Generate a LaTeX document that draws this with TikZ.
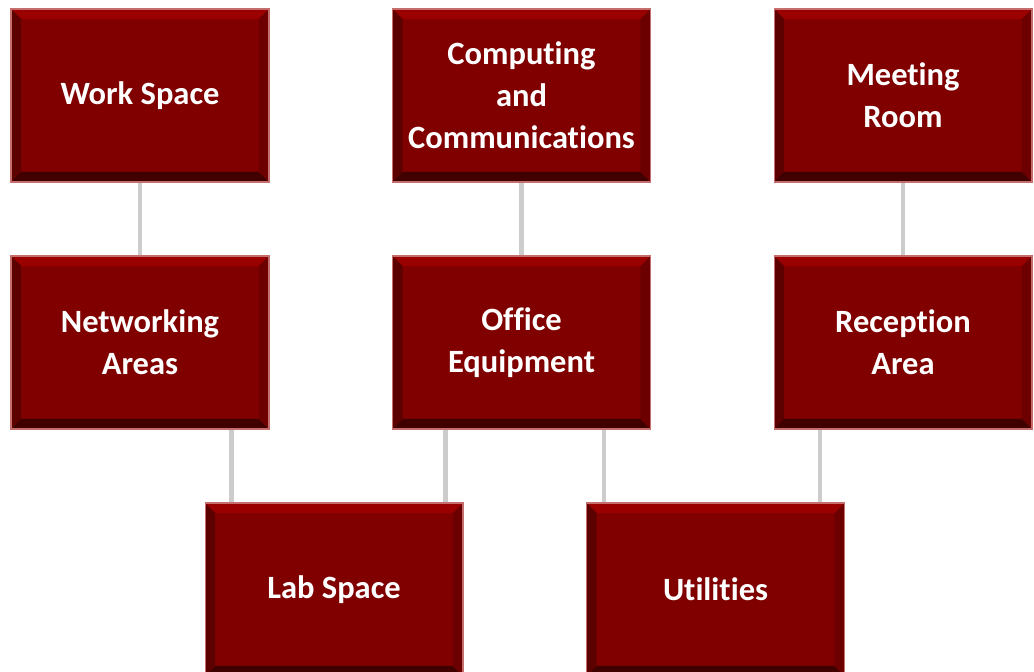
\documentclass[tikz,border=0pt]{standalone}
\usepackage{fontspec}
\setmainfont{Carlito}[RawFeature=-liga]
\usetikzlibrary{positioning}
\definecolor{boxred}{RGB}{128,0,0}
\definecolor{bevtop}{RGB}{155,0,0}
\definecolor{bevleft}{RGB}{92,0,0}
\definecolor{bevbot}{RGB}{64,0,0}
\definecolor{bevright}{RGB}{108,0,0}
\definecolor{rim}{RGB}{196,110,110}
\definecolor{linkgray}{RGB}{204,204,204}
\begin{document}
\begin{tikzpicture}[x=0.02cm,y=-0.02cm]
		\tikzset{
			bev/.store in=\bev, bev=0.2cm,
			box/.style={rectangle, fill=boxred, draw=rim, line width=0.6pt,
				minimum width=5.16cm, minimum height=3.46cm, inner sep=0pt,
				text=white, align=center, font=\fontsize{18.5}{24}\selectfont\bfseries,
				path picture={
					\def\pb{path picture bounding box}
					\fill[bevtop] (\pb.north west) -- (\pb.north east)
						-- ([shift={(-\bev,-\bev)}]\pb.north east) -- ([shift={(\bev,-\bev)}]\pb.north west) -- cycle;
					\fill[bevleft] (\pb.north west) -- ([shift={(\bev,-\bev)}]\pb.north west)
						-- ([shift={(\bev,\bev)}]\pb.south west) -- (\pb.south west) -- cycle;
					\fill[bevbot] (\pb.south west) -- ([shift={(\bev,\bev)}]\pb.south west)
						-- ([shift={(-\bev,\bev)}]\pb.south east) -- (\pb.south east) -- cycle;
					\fill[bevright] (\pb.north east) -- ([shift={(-\bev,-\bev)}]\pb.north east)
						-- ([shift={(-\bev,\bev)}]\pb.south east) -- (\pb.south east) -- cycle;
				}},
			link/.style={draw=linkgray, line width=2.6pt}
		}
		\useasboundingbox (0,0) rectangle (1034,672);
		% top row
		\node[box] (work) at (140,95.5) {Work Space};
		\node[box] (comp) at (521.5,95.5) {Computing\\and\\Communications};
		\node[box] (meet) at (903,95.5) {Meeting\\Room};
		% middle row
		\node[box] (net) at (140,342.5) {Networking\\Areas};
		\node[box] (office) at (521.5,342.5) {Office\\Equipment};
		\node[box] (recep) at (903,342.5) {Reception\\Area};
		% bottom row
		\node[box] (lab) at (334,589.5) {Lab Space};
		\node[box] (util) at (715.5,589.5) {Utilities};
		% links
		\draw[link] (work) -- (net);
		\draw[link] (comp) -- (office);
		\draw[link] (meet) -- (recep);
		\draw[link] ([xshift=0.54cm]lab.north west) -- ([xshift=0.54cm]lab.north west |- net.south);
		\draw[link] ([xshift=-0.36cm]lab.north east) -- ([xshift=-0.36cm]lab.north east |- office.south);
		\draw[link] ([xshift=0.36cm]util.north west) -- ([xshift=0.36cm]util.north west |- office.south);
		\draw[link] ([xshift=-0.5cm]util.north east) -- ([xshift=-0.5cm]util.north east |- recep.south);
\end{tikzpicture}
\end{document}
